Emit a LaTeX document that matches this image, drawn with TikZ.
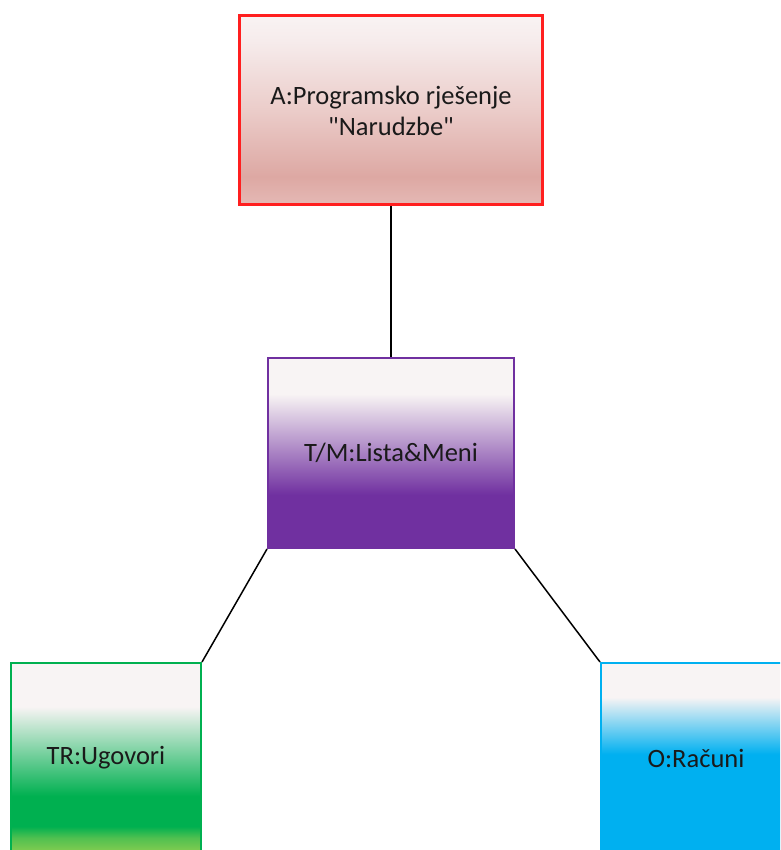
\documentclass[tikz,border=0pt]{standalone}
\usepackage{fontspec}
\setmainfont{Carlito}[Ligatures=TeXOff]
\definecolor{aBot}{HTML}{E5B9B5}
\definecolor{aLow}{HTML}{DDA8A3}
\definecolor{aMid}{HTML}{EBCCC9}
\definecolor{aUp}{HTML}{F6ECEC}
\definecolor{aTop}{HTML}{F8F3F3}
\definecolor{pale}{HTML}{F8F4F4}
\definecolor{purp}{HTML}{7030A0}
\definecolor{grn}{HTML}{00B050}
\definecolor{grnL}{HTML}{88CD50}
\definecolor{grnM}{HTML}{50C050}
\definecolor{blu}{HTML}{00B0F0}
\definecolor{redB}{HTML}{FF1F1F}
\definecolor{txt}{HTML}{1A1A1A}
\pgfdeclareverticalshading{shA}{100bp}{color(0bp)=(aBot); color(25bp)=(aBot); color(32.5bp)=(aLow); color(50bp)=(aMid); color(68.5bp)=(aUp); color(75bp)=(aTop); color(100bp)=(aTop)}
\pgfdeclareverticalshading{shB}{100bp}{color(0bp)=(purp); color(25bp)=(purp); color(39bp)=(purp); color(65.5bp)=(pale); color(75bp)=(pale); color(100bp)=(pale)}
\pgfdeclareverticalshading{shC}{100bp}{color(0bp)=(grnL); color(25bp)=(grnL); color(29bp)=(grnM); color(32bp)=(grn); color(40bp)=(grn); color(63.5bp)=(pale); color(75bp)=(pale); color(100bp)=(pale)}
\pgfdeclareverticalshading{shD}{100bp}{color(0bp)=(blu); color(25bp)=(blu); color(51bp)=(blu); color(66bp)=(pale); color(75bp)=(pale); color(100bp)=(pale)}
\begin{document}
\begin{tikzpicture}[x=1pt,y=-1pt,
  box/.style={rectangle, inner sep=0pt, align=center, text=txt,
    font=\fontsize{26.5}{31}\selectfont},
  link/.style={draw=black, line width=1.5pt}]
\useasboundingbox (0,0) rectangle (780,850);
\clip (0,0) rectangle (780,850);
\node[box, shading=shA, draw=redB, line width=3pt, minimum width=303pt, minimum height=189pt] (a) at (391,110.5) {A:Programsko rješenje\\"Narudzbe"};
\node[box, shading=shB, draw=purp, line width=2pt, minimum width=246pt, minimum height=190pt] (b) at (391,453) {T/M:Lista\&Meni};
\node[box, shading=shC, draw=grn, line width=2pt, minimum width=190pt, minimum height=190pt] (c) at (106,758) {TR:Ugovori};
\node[box, shading=shD, draw=blu, line width=2pt, minimum width=190pt, minimum height=190pt] (d) at (696,758) {O:Računi};
\draw[link] (a.south) -- (b.north);
\draw[link] (b.south west) -- (c.north east);
\draw[link] (b.south east) -- (d.north west);
\end{tikzpicture}
\end{document}
